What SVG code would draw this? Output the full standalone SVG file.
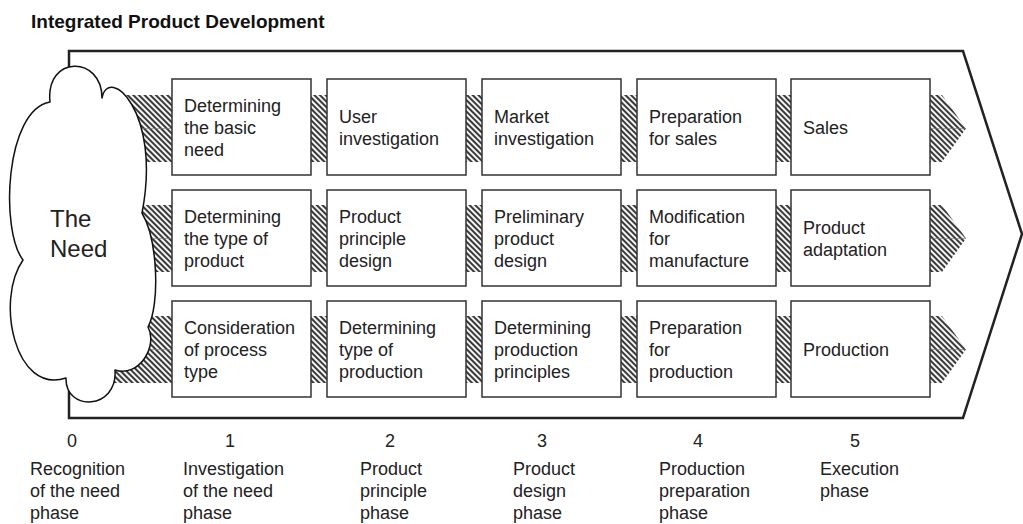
<svg xmlns="http://www.w3.org/2000/svg" width="1023" height="524" viewBox="0 0 1023 524">
<defs>
<pattern id="hatch" width="4" height="4" patternUnits="userSpaceOnUse" patternTransform="rotate(45)">
<rect width="4" height="4" fill="#f4f4f4"/>
<rect width="4" height="2" fill="#3a3a3a"/>
</pattern>
<style>
text{font-family:"Liberation Sans",Arial,sans-serif;fill:#222;}
.t{font-size:18px;}
.title{font-size:19px;font-weight:bold;fill:#111;}
.need{font-size:24px;}
.box{fill:#fff;stroke:#333;stroke-width:1.5;}
.band{fill:url(#hatch);stroke:none;}
.seam{stroke:#777;stroke-width:0.6;fill:none;}
.num{text-anchor:middle;}
</style>
</defs>
<rect width="1023" height="524" fill="#fff"/>
<text class="title" x="31" y="28">Integrated Product Development</text>
<g id="frame">
<path d="M69,51 H963 L1022,234 L963,418 H69 Z" fill="#fff" stroke="#222" stroke-width="2.5" stroke-linejoin="miter"/>
</g>
<g id="connectors">
<rect class="band" x="100" y="95" width="72" height="67"/>
<rect class="band" x="100" y="205" width="72" height="67"/>
<rect class="band" x="100" y="316" width="72" height="67"/>
<rect class="band" x="310" y="95" width="17" height="67"/>
<rect class="band" x="465" y="95" width="17" height="67"/>
<rect class="band" x="620" y="95" width="17" height="67"/>
<rect class="band" x="775" y="95" width="16" height="67"/>
<rect class="band" x="310" y="205" width="17" height="67"/>
<rect class="band" x="465" y="205" width="17" height="67"/>
<rect class="band" x="620" y="205" width="17" height="67"/>
<rect class="band" x="775" y="205" width="16" height="67"/>
<rect class="band" x="310" y="316" width="17" height="67"/>
<rect class="band" x="465" y="316" width="17" height="67"/>
<rect class="band" x="620" y="316" width="17" height="67"/>
<rect class="band" x="775" y="316" width="16" height="67"/>
<polygon class="band" points="929,95 942,95 966,128.5 942,162 929,162"/>
<polygon class="band" points="929,205 942,205 966,238.5 942,272 929,272"/>
<polygon class="band" points="929,316 942,316 966,349.5 942,383 929,383"/>
<path class="seam" d="M100,128.5 H172 M100,238.5 H172 M100,349.5 H172 M930,128.5 H966 M930,238.5 H966 M930,349.5 H966"/>
</g>
<g id="need">
<path d="M50,102 C45,55 102,55 102,98 C108,65 162,110 142,213 C158,240 160,305 148,327 C158,345 140,378 115,370 C118,410 65,412 66,378 C15,395 -5,300 23,260 C0,230 5,110 50,102 Z" fill="#fff" stroke="#111" stroke-width="1.5" stroke-linejoin="round"/>
<text class="need" x="50" y="227">The</text>
<text class="need" x="50" y="257">Need</text>
</g>
<g id="r1c1"><rect class="box" x="172" y="79" width="139" height="96"/>
<text class="t" x="184" y="112">Determining</text><text class="t" x="184" y="134">the basic</text><text class="t" x="184" y="156">need</text></g>
<g id="r1c2"><rect class="box" x="327" y="79" width="139" height="96"/>
<text class="t" x="339" y="123">User</text><text class="t" x="339" y="145">investigation</text></g>
<g id="r1c3"><rect class="box" x="482" y="79" width="139" height="96"/>
<text class="t" x="494" y="123">Market</text><text class="t" x="494" y="145">investigation</text></g>
<g id="r1c4"><rect class="box" x="637" y="79" width="139" height="96"/>
<text class="t" x="649" y="123">Preparation</text><text class="t" x="649" y="145">for sales</text></g>
<g id="r1c5"><rect class="box" x="791" y="79" width="139" height="96"/>
<text class="t" x="803" y="134">Sales</text></g>
<g id="r2c1"><rect class="box" x="172" y="190" width="139" height="96"/>
<text class="t" x="184" y="223">Determining</text><text class="t" x="184" y="245">the type of</text><text class="t" x="184" y="267">product</text></g>
<g id="r2c2"><rect class="box" x="327" y="190" width="139" height="96"/>
<text class="t" x="339" y="223">Product</text><text class="t" x="339" y="245">principle</text><text class="t" x="339" y="267">design</text></g>
<g id="r2c3"><rect class="box" x="482" y="190" width="139" height="96"/>
<text class="t" x="494" y="223">Preliminary</text><text class="t" x="494" y="245">product</text><text class="t" x="494" y="267">design</text></g>
<g id="r2c4"><rect class="box" x="637" y="190" width="139" height="96"/>
<text class="t" x="649" y="223">Modification</text><text class="t" x="649" y="245">for</text><text class="t" x="649" y="267">manufacture</text></g>
<g id="r2c5"><rect class="box" x="791" y="190" width="139" height="96"/>
<text class="t" x="803" y="234">Product</text><text class="t" x="803" y="256">adaptation</text></g>
<g id="r3c1"><rect class="box" x="172" y="301" width="139" height="96"/>
<text class="t" x="184" y="334">Consideration</text><text class="t" x="184" y="356">of process</text><text class="t" x="184" y="378">type</text></g>
<g id="r3c2"><rect class="box" x="327" y="301" width="139" height="96"/>
<text class="t" x="339" y="334">Determining</text><text class="t" x="339" y="356">type of</text><text class="t" x="339" y="378">production</text></g>
<g id="r3c3"><rect class="box" x="482" y="301" width="139" height="96"/>
<text class="t" x="494" y="334">Determining</text><text class="t" x="494" y="356">production</text><text class="t" x="494" y="378">principles</text></g>
<g id="r3c4"><rect class="box" x="637" y="301" width="139" height="96"/>
<text class="t" x="649" y="334">Preparation</text><text class="t" x="649" y="356">for</text><text class="t" x="649" y="378">production</text></g>
<g id="r3c5"><rect class="box" x="791" y="301" width="139" height="96"/>
<text class="t" x="803" y="356">Production</text></g>
<g id="phases">
<text class="t num" x="72" y="447">0</text>
<text class="t num" x="230" y="447">1</text>
<text class="t num" x="390" y="447">2</text>
<text class="t num" x="542" y="447">3</text>
<text class="t num" x="698" y="447">4</text>
<text class="t num" x="855" y="447">5</text>
<text class="t" x="30" y="475">Recognition</text><text class="t" x="30" y="497">of the need</text><text class="t" x="30" y="519">phase</text>
<text class="t" x="183" y="475">Investigation</text><text class="t" x="183" y="497">of the need</text><text class="t" x="183" y="519">phase</text>
<text class="t" x="360" y="475">Product</text><text class="t" x="360" y="497">principle</text><text class="t" x="360" y="519">phase</text>
<text class="t" x="513" y="475">Product</text><text class="t" x="513" y="497">design</text><text class="t" x="513" y="519">phase</text>
<text class="t" x="659" y="475">Production</text><text class="t" x="659" y="497">preparation</text><text class="t" x="659" y="519">phase</text>
<text class="t" x="820" y="475">Execution</text><text class="t" x="820" y="497">phase</text>
</g>
</svg>
